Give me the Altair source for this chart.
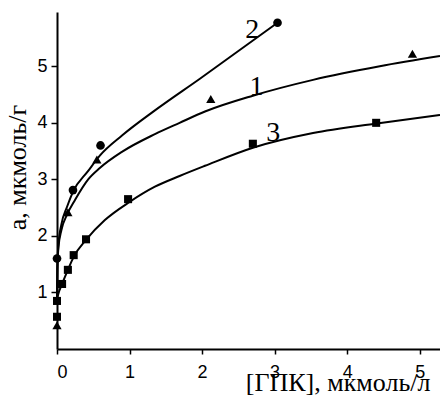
import altair as alt
import pandas as pd

# fitted curves
c1_x = [0, 0.005, 0.02, 0.06, 0.14, 0.25, 0.43, 0.59, 0.9, 1.35, 1.69, 2.04, 2.7, 3.53, 4.45, 5.28]
c1_y = [0.9, 1.4, 1.8, 2.1, 2.38, 2.64, 3.0, 3.2, 3.49, 3.8, 4.0, 4.2, 4.48, 4.76, 5.0, 5.18]
c2_x = [0, 0.005, 0.02, 0.06, 0.14, 0.22, 0.43, 0.59, 0.9, 1.35, 1.97, 3.04]
c2_y = [0.9, 1.45, 1.85, 2.2, 2.52, 2.78, 3.15, 3.42, 3.78, 4.22, 4.78, 5.77]
c3_x = [0, 0.005, 0.02, 0.07, 0.15, 0.23, 0.4, 0.66, 1.0, 1.35, 1.69, 2.04, 2.7, 3.53, 4.41, 5.28]
c3_y = [0.8, 0.9, 0.98, 1.15, 1.4, 1.63, 1.93, 2.28, 2.6, 2.87, 3.06, 3.24, 3.56, 3.82, 3.99, 4.14]

# experimental points
tri_x = [0, 0.15, 0.55, 2.12, 4.9]
tri_y = [0.42, 2.42, 3.35, 4.42, 5.22]
cir_x = [0, 0.22, 0.6, 3.04]
cir_y = [1.6, 2.81, 3.6, 5.77]
sq_x = [0, 0, 0.07, 0.15, 0.23, 0.4, 0.98, 2.7, 4.4]
sq_y = [0.57, 0.85, 1.15, 1.4, 1.66, 1.94, 2.65, 3.63, 4.0]

lab_text = ["1", "2", "3"]
lab_x = [2.75, 2.69, 2.98]
lab_y = [4.64, 5.65, 3.82]

curves = pd.concat([
    pd.DataFrame({"x": c1_x, "y": c1_y, "c": "1"}),
    pd.DataFrame({"x": c2_x, "y": c2_y, "c": "2"}),
    pd.DataFrame({"x": c3_x, "y": c3_y, "c": "3"}),
])
tri = pd.DataFrame({"x": tri_x, "y": tri_y})
cir = pd.DataFrame({"x": cir_x, "y": cir_y})
sq = pd.DataFrame({"x": sq_x, "y": sq_y})
labs = pd.DataFrame({"t": lab_text, "x": lab_x, "y": lab_y})

xs = alt.Scale(domain=[0, 5.28], nice=False, zero=False)
ys = alt.Scale(domain=[0, 5.96], nice=False, zero=False)

xax = alt.Axis(values=[0, 1, 2, 3, 4, 5], format="d", grid=False,
               title="[ГПК], мкмоль/л", titleX=373, titleY=41,
               titleAlign="right", titleBaseline="alphabetic",
               titleFont="Liberation Serif", titleFontSize=26, titleFontWeight="normal",
               titleColor="black",
               labelFont="Liberation Sans", labelFontSize=18, labelColor="black",
               labelPadding=9, tickSize=5, tickColor="black", tickWidth=1.5,
               domainColor="black", domainWidth=2)
yax = alt.Axis(values=[1, 2, 3, 4, 5], format="d", grid=False,
               title="a, мкмоль/г", titleX=-40, titleY=155, titleAngle=-90,
               titleAlign="center", titleBaseline="middle",
               titleFont="Liberation Serif", titleFontSize=26, titleFontWeight="normal",
               titleColor="black",
               labelFont="Liberation Sans", labelFontSize=18, labelColor="black",
               labelPadding=4, tickSize=6, tickColor="black", tickWidth=1.5,
               domainColor="black", domainWidth=2)

lines = alt.Chart(curves).mark_line(color="black", strokeWidth=2, interpolate="monotone").encode(
    x=alt.X("x:Q", scale=xs, axis=xax),
    y=alt.Y("y:Q", scale=ys, axis=yax),
    detail="c:N",
)
p_tri = alt.Chart(tri).mark_point(shape="triangle-up", filled=True, color="black", size=85, opacity=1).encode(
    x=alt.X("x:Q", scale=xs), y=alt.Y("y:Q", scale=ys))
p_cir = alt.Chart(cir).mark_point(shape="circle", filled=True, color="black", size=75, opacity=1).encode(
    x=alt.X("x:Q", scale=xs), y=alt.Y("y:Q", scale=ys))
p_sq = alt.Chart(sq).mark_point(shape="square", filled=True, color="black", size=65, opacity=1).encode(
    x=alt.X("x:Q", scale=xs), y=alt.Y("y:Q", scale=ys))
texts = alt.Chart(labs).mark_text(font="Liberation Serif", fontSize=28, color="black",
                                  align="center", baseline="middle").encode(
    x=alt.X("x:Q", scale=xs), y=alt.Y("y:Q", scale=ys), text="t:N")

chart = alt.layer(lines, p_tri, p_cir, p_sq, texts).properties(
    width=383, height=337,
    autosize=alt.AutoSizeParams(type="none"),
    padding={"left": 57, "top": 12, "right": 0, "bottom": 52},
    background="white",
).configure_view(stroke=None)

chart.save("out.html", embed_options={"renderer": "svg", "actions": False})
